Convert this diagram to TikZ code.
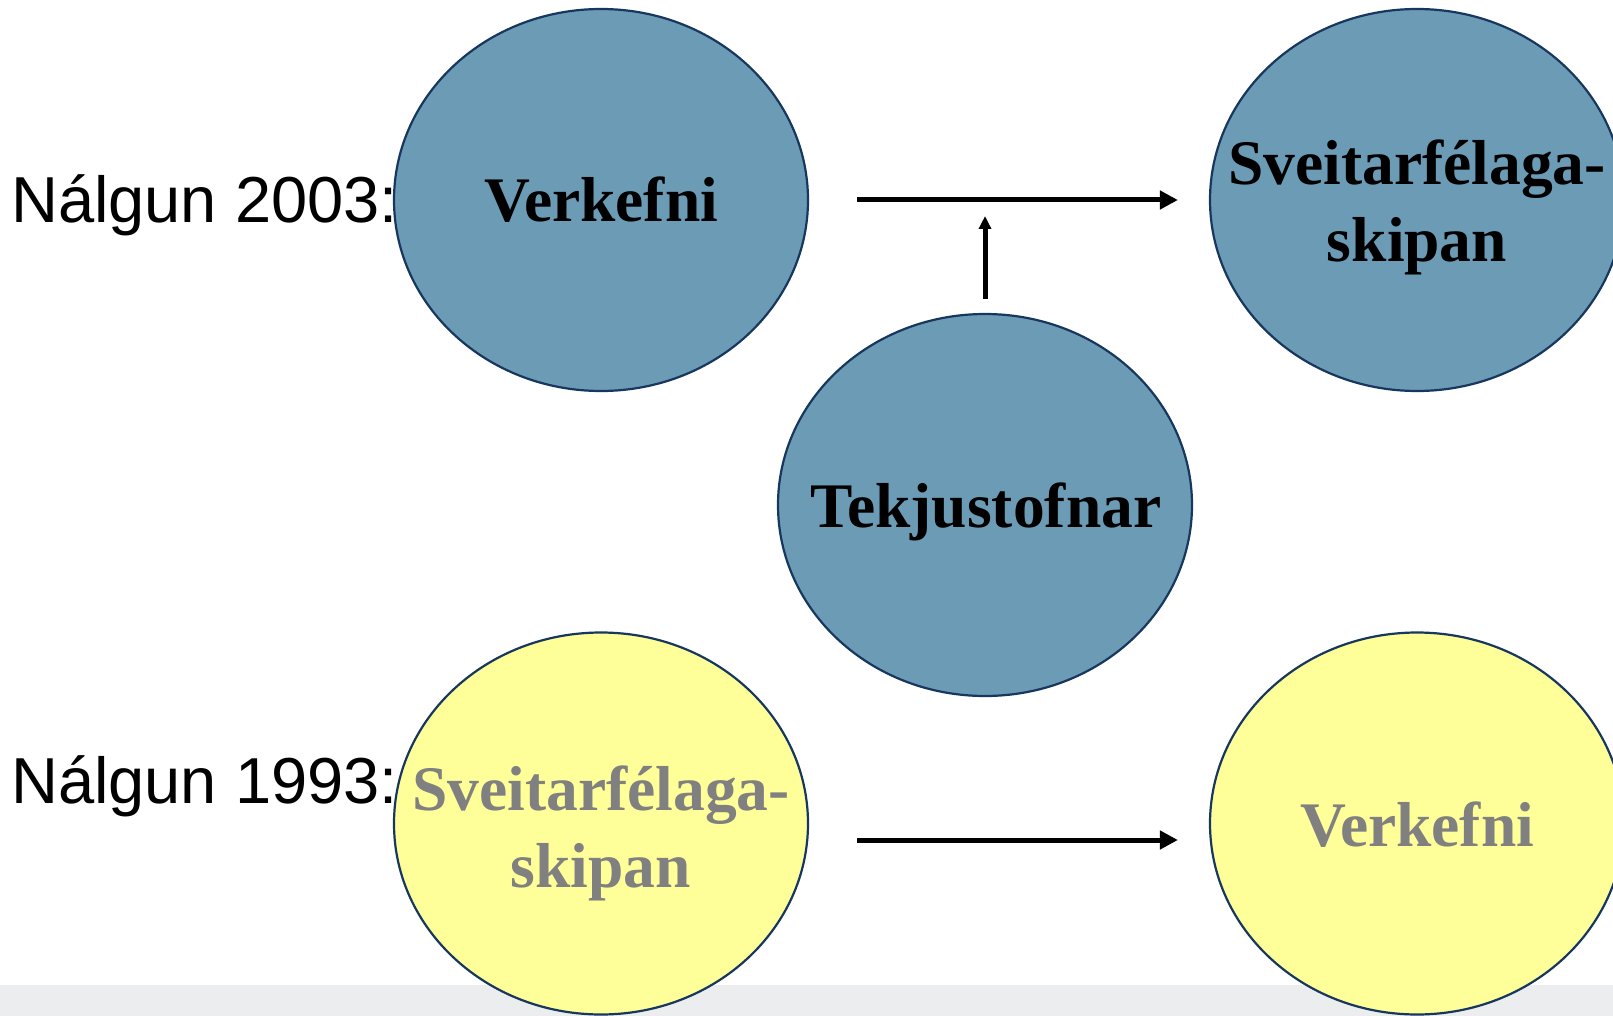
\documentclass[tikz,border=0pt]{standalone}
\usepackage{fontspec}
\setmainfont{Liberation Serif}
\newfontfamily\arialfont{Liberation Sans}
\usetikzlibrary{arrows.meta,calc,shapes.geometric}
\definecolor{bluefill}{RGB}{108,155,181}
\definecolor{yelfill}{RGB}{255,255,153}
\definecolor{navyline}{RGB}{23,55,94}
\definecolor{bandgray}{RGB}{236,237,239}
\definecolor{txtgray}{RGB}{128,128,128}
\begin{document}
\begin{tikzpicture}[x=1pt,y=-1pt,
  circ/.style={ellipse, draw=navyline, line width=2.2pt, minimum width=414pt, minimum height=382pt, inner sep=0pt},
  bluecirc/.style={circ, fill=bluefill},
  yelcirc/.style={circ, fill=yelfill},
  lbl/.style={font=\arialfont\fontsize{65}{78}\selectfont, anchor=base west, inner sep=0pt},
  bigtxt/.style={font=\bfseries\fontsize{63.5}{77}\selectfont, anchor=base, inner sep=0pt},
  arr/.style={line width=5pt, -{Triangle[length=18pt,width=18pt]}},
  arrsmall/.style={line width=5pt, -{Triangle[length=13pt,width=12pt]}},
]
\useasboundingbox (0,0) rectangle (1613,1016);
\fill[bandgray] (0,985) rectangle (1613,1016);

\node[bluecirc] (v1) at (601,200) {};
\node[bluecirc] (s1) at (1417,200) {};
\node[bluecirc] (tk) at (985,505) {};
\node[yelcirc] (b1) at (601,823.5) {};
\node[yelcirc] (b2) at (1417,823.5) {};

\node[lbl] (n03) at (11,223) {Nálgun 2003:};
\node[lbl] (n93) at (11,803) {Nálgun 1993:};

\node[bigtxt] (tv1) at (601,222) {Verkefni};
\node[bigtxt] (ts1) at (1417,185) {\begin{tabular}[t]{@{}c@{}}Sveitarfélaga-\\skipan\end{tabular}};
\node[bigtxt] (ttk) at (986,527) {Tekjustofnar};
\node[bigtxt, text=txtgray] (tb1) at (601,810) {\begin{tabular}[t]{@{}c@{}}Sveitarfélaga-\\skipan\end{tabular}};
\node[bigtxt, text=txtgray] (tb2) at (1417,846) {Verkefni};

\coordinate (vtip) at (985,216);
\draw[arr] ($(v1.east)+(48,0)$) -- ($(s1.west)+(-31,0)$);
\draw[arrsmall, shorten <=14pt] (tk.north) -- (vtip);
\draw[arr] ($(b1.east)+(48,16.5)$) -- ($(b2.west)+(-31,16.5)$);
\end{tikzpicture}
\end{document}
